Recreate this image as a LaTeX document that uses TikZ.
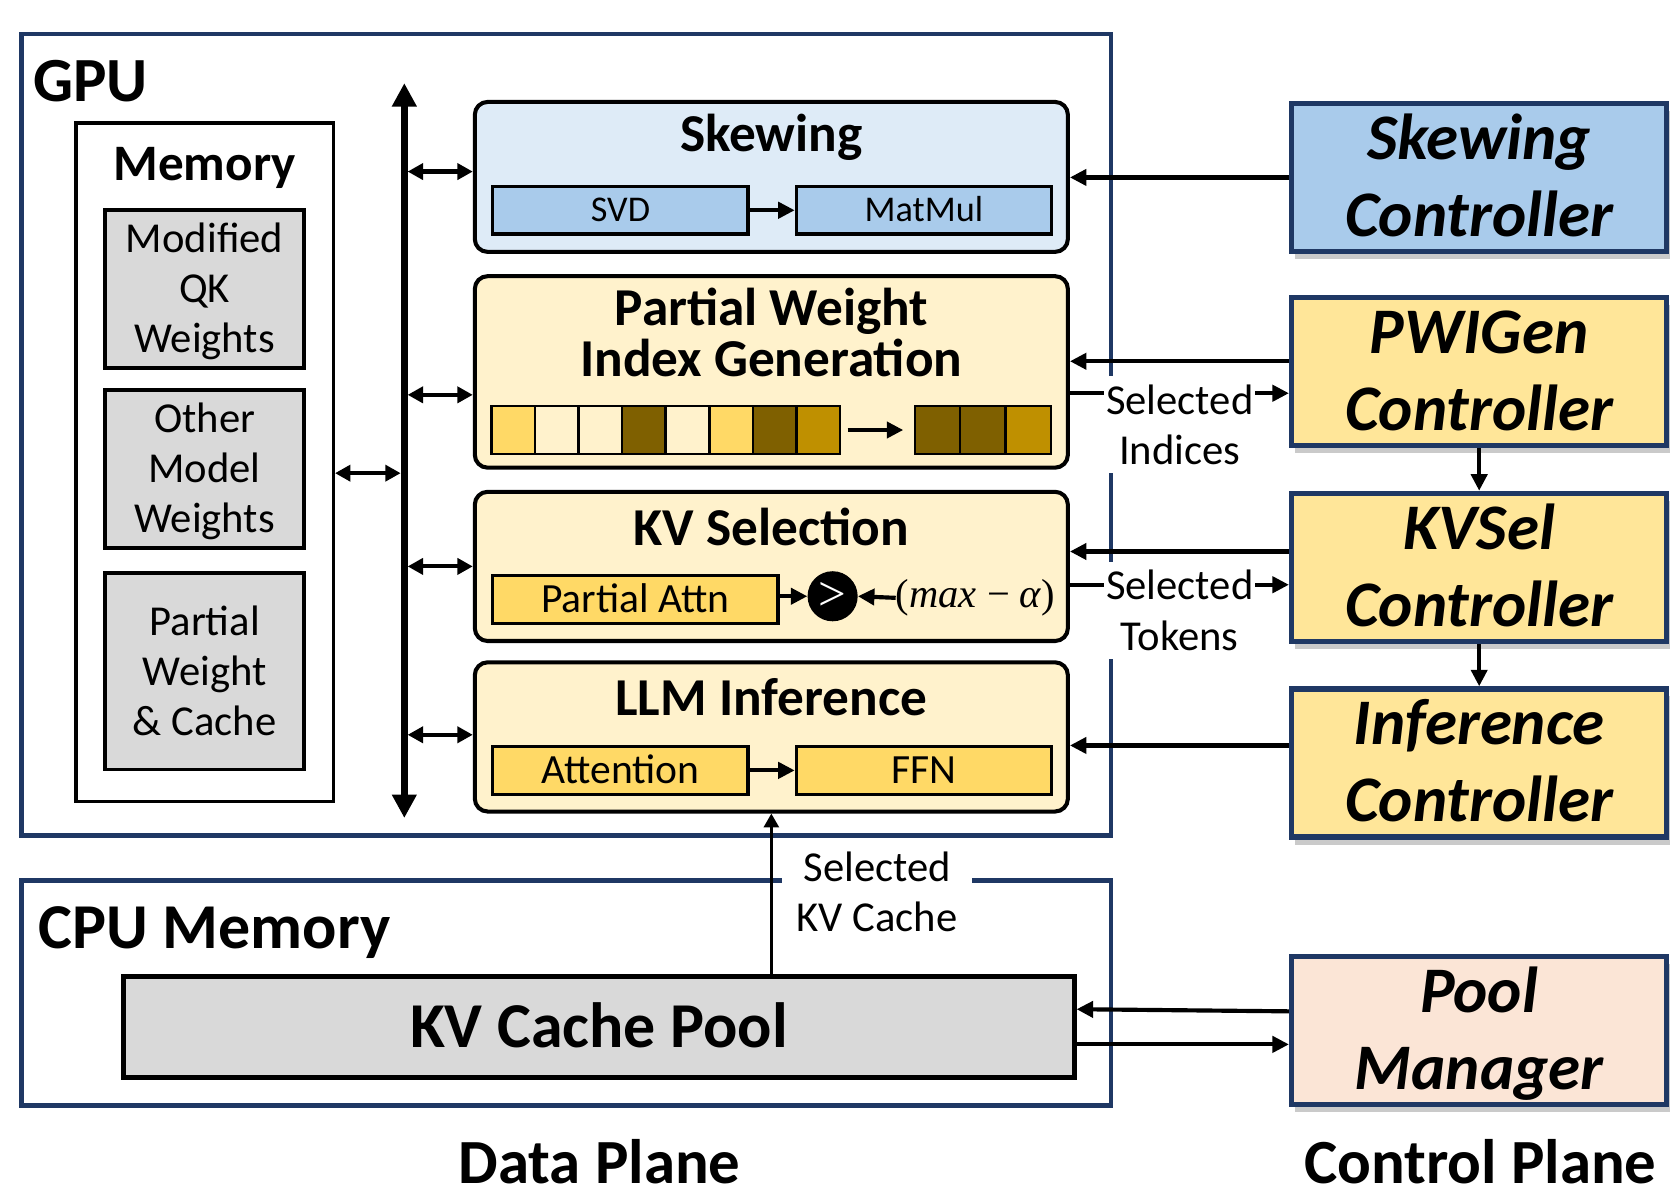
\documentclass[tikz,border=0pt]{standalone}
\usepackage{fontspec}
\setmainfont{Carlito}
\newfontfamily\serifmath{Liberation Serif}
\usetikzlibrary{arrows.meta,calc,shadows}

\definecolor{navy}{HTML}{1F3864}
\definecolor{skblk}{HTML}{DEEBF7}
\definecolor{skin}{HTML}{A9CBEB}
\definecolor{ylblk}{HTML}{FFF2CC}
\definecolor{ylin}{HTML}{FFD966}
\definecolor{ylctl}{HTML}{FFE699}
\definecolor{brdark}{HTML}{7F6000}
\definecolor{brmid}{HTML}{BF9000}
\definecolor{pinkbg}{HTML}{FBE5D6}
\definecolor{grayb}{HTML}{D9D9D9}

\newcommand{\fs}[2]{\fontsize{#1pt}{#2pt}\selectfont}
\newcommand{\mlines}[2]{\vtop{\lineskiplimit=-1000pt\relax\baselineskip=#1pt\relax\halign{\hfil##\hfil\cr#2\crcr}}}

\tikzset{
  framebox/.style={draw=navy, line width=4.5pt, inner sep=0pt},
  membox/.style={draw=black, line width=3.2pt, inner sep=0pt},
  graybox/.style={draw=black, line width=3.6pt, fill=grayb, inner sep=0pt},
  blk/.style={draw=black, line width=3.8pt, rounded corners=12pt, inner sep=0pt},
  inbox/.style={draw=black, line width=3pt, inner sep=0pt, minimum height=44.5pt},
  sqbox/.style={draw=black, line width=2.4pt, minimum width=40.9pt, minimum height=45pt, inner sep=0pt},
  ctl/.style={draw=navy, line width=5pt, minimum width=352pt, minimum height=139pt, inner sep=0pt,
    drop shadow={shadow xshift=3pt, shadow yshift=-7pt, opacity=0.35, fill=black!60}},
  arr/.style={line width=3.9pt, -{Triangle[length=15.5pt,width=15pt]}},
  darr/.style={line width=3.9pt, {Triangle[length=14.5pt,width=15pt]}-{Triangle[length=14.5pt,width=15pt]}},
  busarr/.style={line width=7pt, {Triangle[length=22pt,width=22pt]}-{Triangle[length=22pt,width=22pt]}},
  thinarr/.style={line width=2.8pt, -{Triangle[length=13pt,width=14pt]}},
  lbl/.style={fill=white, inner xsep=2pt, inner ysep=8pt, font=\fs{40}{47}},
  txt/.style={inner sep=0pt},
  ttl/.style={inner sep=0pt, anchor=base, font=\fs{50}{60}\bfseries},
  ctltxt/.style={inner sep=0pt, anchor=base, font=\fs{61}{72}\bfseries\itshape},
}

\begin{document}
\begin{tikzpicture}[x=1pt,y=-1pt]
\useasboundingbox (0,0) rectangle (1568,1123.2);

% ---------- GPU ----------
\node[framebox, minimum width=1022pt, minimum height=752pt] (gpu) at (531.5,408) {};
\node[txt, anchor=base west, font=\fs{59}{70}\bfseries] (gputxt) at (31,95.5) {GPU};

\node[membox, minimum width=241.5pt, minimum height=636.4pt] (mem) at (192,433.8) {};
\node[txt, anchor=base, font=\fs{48}{58}\bfseries] (memtxt) at (192,169) {Memory};

\node[graybox, minimum width=186.5pt, minimum height=148pt] (g1) at (192,271) {};
\node[txt, anchor=base, font=\fs{40}{47}] (g1t) at (192,236.6) {\mlines{47}{Modified\cr QK\cr Weights}};
\node[graybox, minimum width=186.5pt, minimum height=148pt] (g2) at (192,440) {};
\node[txt, anchor=base, font=\fs{40}{47}] (g2t) at (192,405.6) {\mlines{47}{Other\cr Model\cr Weights}};
\node[graybox, minimum width=186.5pt, minimum height=184pt] (g3) at (192,630) {};
\node[txt, anchor=base, font=\fs{40}{47}] (g3t) at (192,596.6) {\mlines{47}{Partial\cr Weight\cr \& Cache}};

% bus
\coordinate (busT) at (379.4,78);
\coordinate (busB) at (379.4,767.6);
\draw[busarr] (busT) -- (busB);

% ---------- Skewing block ----------
\node[blk, fill=skblk, minimum width=556.5pt, minimum height=140.7pt] (skew) at (723.8,166) {};
\node[ttl] (skewt) at (723.8,142) {Skewing};
\node[inbox, fill=skin, minimum width=239.5pt, font=\fs{34}{40}, text height=21.5pt, text depth=0pt] (svd) at (582.2,197.3) {SVD};
\node[inbox, fill=skin, minimum width=239.3pt, font=\fs{34}{40}, text height=21.5pt, text depth=0pt] (mm) at (866.9,197.3) {MatMul};
\draw[arr] (svd) -- (mm);

% ---------- PWIGen block ----------
\node[blk, fill=ylblk, minimum width=556.5pt, minimum height=179.7pt] (pw) at (723.8,349) {};
\node[ttl] (pwt) at (723.8,305) {\mlines{48.5}{Partial Weight\cr Index Generation}};
\foreach \c [count=\i] in {ylin,ylblk,ylblk,brdark,ylblk,ylin,brdark,brmid}
  \node[sqbox, fill=\c] (s\i) at ({461+40.9*(\i-0.5)},403.5) {};
\foreach \c [count=\i] in {brdark,brdark,brmid}
  \node[sqbox, minimum width=42.5pt, fill=\c] (o\i) at ({858.5+42.5*(\i-0.5)},403.5) {};
\draw[arr] ([xshift=6pt]s8.east) -- ([xshift=-9.7pt]o1.west);

% ---------- KV Selection block ----------
\node[blk, fill=ylblk, minimum width=556.5pt, minimum height=140pt] (kv) at (723.8,531.5) {};
\node[ttl] (kvt) at (723.8,512.3) {KV Selection};
\node[inbox, fill=ylin, minimum width=267.5pt, font=\fs{39}{46}, text height=24.6pt, text depth=0pt] (pattn) at (596.2,562.5) {Partial Attn};
\node[circle, fill=black, minimum size=47pt, inner sep=0pt, text=white, font=\serifmath\fs{46}{50}] (cmp) at (781.3,559.5) {>};
\node[txt, font=\serifmath\fs{38}{44}] (thr) at (915.5,561) {(\textit{max} − \textit{α})};
\draw[arr] (pattn.east |- cmp) -- (cmp);
\draw[arr] (thr.west) -- (cmp.east);

% ---------- LLM Inference block ----------
\node[blk, fill=ylblk, minimum width=556.5pt, minimum height=140pt] (llm) at (723.8,691.5) {};
\node[ttl] (llmt) at (723.8,671) {LLM Inference};
\node[inbox, fill=ylin, minimum width=239.5pt, font=\fs{39}{46}, text height=24.6pt, text depth=0pt] (att) at (582.2,722.9) {Attention};
\node[inbox, fill=ylin, minimum width=239.3pt, font=\fs{39}{46}, text height=24.6pt, text depth=0pt] (ffn) at (866.9,722.9) {FFN};
\draw[arr] (att) -- (ffn);

% bus connectors
\coordinate (b0) at (376,444);
\draw[darr] (mem.east |- b0) -- (b0);
\coordinate (b1) at (382.5,161);
\draw[darr] (b1) -- (b1 -| skew.west);
\coordinate (b2) at (382.5,370.5);
\draw[darr] (b2) -- (b2 -| pw.west);
\coordinate (b3) at (382.5,531.5);
\draw[darr] (b3) -- (b3 -| kv.west);
\coordinate (b4) at (382.5,689.5);
\draw[darr] (b4) -- (b4 -| llm.west);

% ---------- CPU memory ----------
\node[framebox, minimum width=1022pt, minimum height=211.5pt] (cpu) at (531.5,931.75) {};
\node[txt, anchor=base west, font=\fs{60}{70}\bfseries] (cputxt) at (36,889.6) {CPU Memory};
\node[graybox, line width=4.4pt, minimum width=892pt, minimum height=95pt, font=\fs{60}{70}\bfseries, text height=38pt, text depth=0pt] (kvp) at (562,963.5) {KV Cache Pool};

\draw[thinarr] (kvp.north -| llm.south) -- (llm.south);
\node[lbl, anchor=base, inner xsep=14pt] (selkv) at (823,827) {\mlines{47}{Selected\cr KV Cache}};

% ---------- Controllers ----------
\node[ctl, fill=skin] (skc) at (1388,166.5) {};
\node[ctltxt] (skct) at ($(skc.center)+(0,-17)$) {\mlines{72}{Skewing\cr Controller}};
\node[ctl, fill=ylctl] (pwc) at (1388,348.5) {};
\node[ctltxt] (pwct) at ($(pwc.center)+(0,-17)$) {\mlines{72}{PWIGen\cr Controller}};
\node[ctl, fill=ylctl] (kvc) at (1388,532.5) {};
\node[ctltxt] (kvct) at ($(kvc.center)+(0,-17)$) {\mlines{72}{KVSel\cr Controller}};
\node[ctl, fill=ylctl] (inc) at (1388,716) {};
\node[ctltxt] (inct) at ($(inc.center)+(0,-17)$) {\mlines{72}{Inference\cr Controller}};
\node[ctl, fill=pinkbg] (pmc) at (1388,967) {};
\node[ctltxt] (pmct) at ($(pmc.center)+(0,-17)$) {\mlines{72}{Pool\cr Manager}};

% controller connectors
\draw[arr] (skc.west) -- (skc.west -| skew.east);
\coordinate (pwA) at ([yshift=9.5pt]pwc.west);
\draw[arr] (pwA) -- (pwA -| pw.east);
\coordinate (pwB) at ([yshift=-20.5pt]pwc.west);
\draw[arr] (pwB -| pw.east) -- (pwB);
\coordinate (kvA) at ([yshift=15pt]kvc.west);
\draw[arr] (kvA) -- (kvA -| kv.east);
\coordinate (kvB) at ([yshift=-16.2pt]kvc.west);
\draw[arr] (kvB -| kv.east) -- (kvB);
\coordinate (inA) at ([yshift=16.5pt]inc.west);
\draw[arr] (inA) -- (inA -| llm.east);
\draw[arr] (pwc) -- (kvc);
\draw[arr] (kvc) -- (inc);

\node[lbl, anchor=base] (selidx) at (1107,389) {\mlines{47}{Selected\cr Indices}};
\node[lbl, anchor=base] (seltok) at (1107,563) {\mlines{47}{Selected\cr Tokens}};

% pool manager connectors
\coordinate (pA) at ([yshift=18pt]pmc.west);
\coordinate (kA) at ([yshift=16.5pt]kvp.east);
\draw[arr] (pA) -- (kA);
\coordinate (pB) at ([yshift=-13pt]pmc.west);
\draw[arr] (pB -| kvp.east) -- (pB);

% ---------- plane labels ----------
\node[txt, anchor=base, font=\fs{59}{70}\bfseries] (dp) at (562.5,1111) {Data Plane};
\node[txt, anchor=base, font=\fs{59}{70}\bfseries] (cp) at (1389,1111) {Control Plane};
\end{tikzpicture}
\end{document}
